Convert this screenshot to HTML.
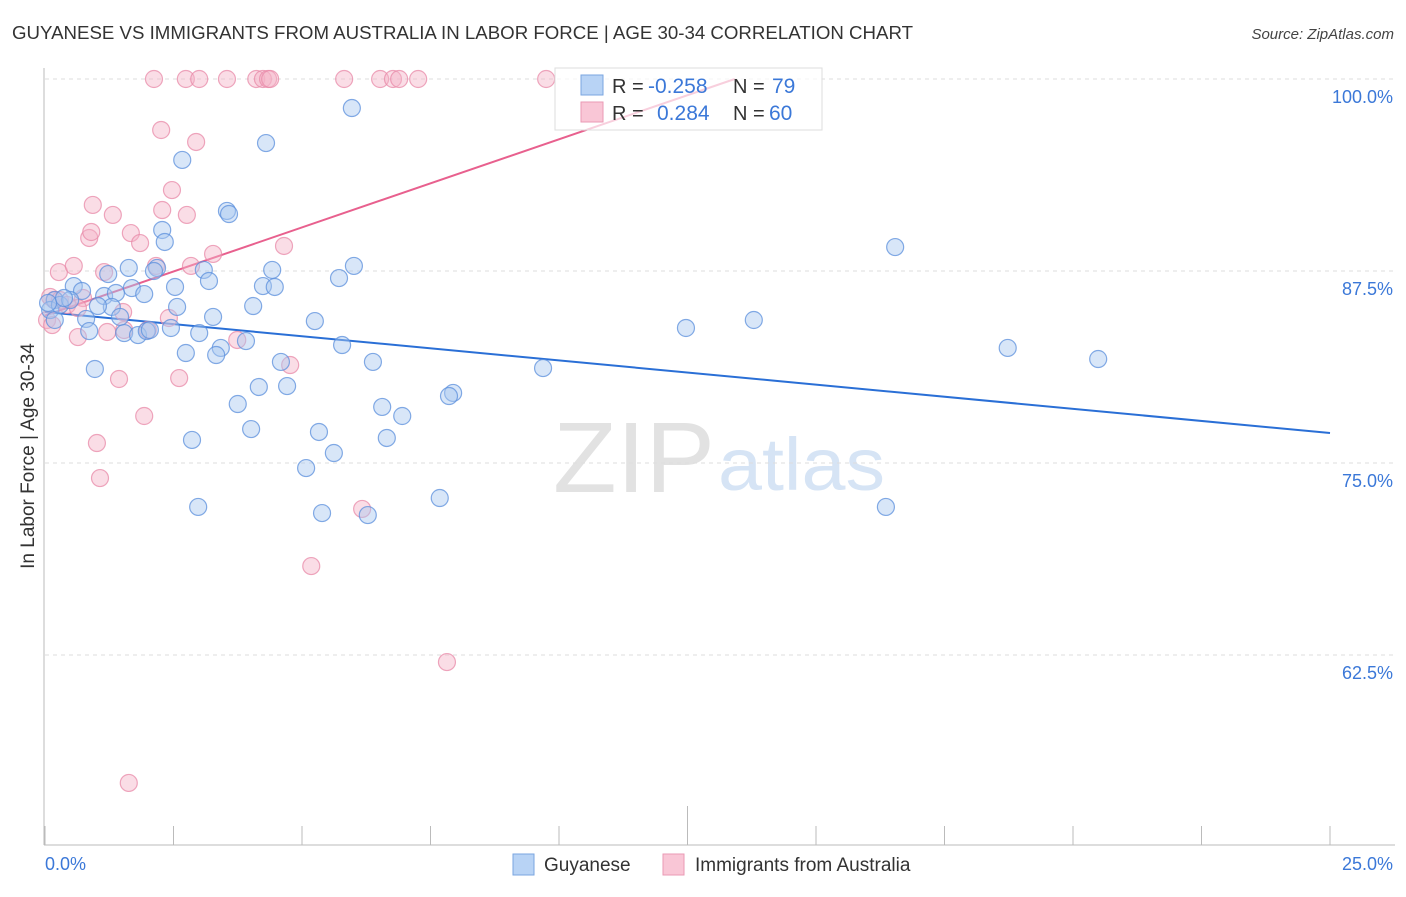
<!DOCTYPE html>
<html><head><meta charset="utf-8"><style>
body{margin:0;background:#fff;font-family:"Liberation Sans",sans-serif;}
svg text{font-family:"Liberation Sans",sans-serif;}
</style></head><body>
<svg id="chart" width="1406" height="892" xmlns="http://www.w3.org/2000/svg">
<text x="12" y="39" font-size="18" fill="#333" textLength="901" lengthAdjust="spacingAndGlyphs">GUYANESE VS IMMIGRANTS FROM AUSTRALIA IN LABOR FORCE | AGE 30-34 CORRELATION CHART</text>
<text x="1394" y="39" font-size="15" fill="#444" text-anchor="end" font-style="italic">Source: ZipAtlas.com</text>
<text transform="translate(34,456) rotate(-90)" font-size="19" fill="#333" text-anchor="middle">In Labor Force | Age 30-34</text>
<g>
<text x="553" y="492" font-family="Liberation Serif,serif" font-size="100" fill="#e2e2e2" textLength="162" lengthAdjust="spacingAndGlyphs">ZIP</text>
<text x="718" y="490" font-size="74" fill="#d6e4f5" textLength="167" lengthAdjust="spacingAndGlyphs">atlas</text>
</g>
<g id="grid"></g><g id="axes"></g><g id="trend"></g><g id="pts"></g>
<g>
<rect x="555" y="68" width="267" height="62" fill="#fff" fill-opacity="0.7" stroke="#ddd"/>
<rect x="581" y="75" width="22" height="20" fill="#b8d3f5" stroke="#7aa6e0"/>
<rect x="581" y="102" width="22" height="20" fill="#f9c6d6" stroke="#ea9ab4"/>
<text x="612" y="93" font-size="20" fill="#333">R = </text><text x="648" y="93" font-size="21" fill="#3b78d8">-0.258</text>
<text x="733" y="93" font-size="20" fill="#333">N = </text><text x="772" y="93" font-size="21" fill="#3b78d8">79</text>
<text x="612" y="120" font-size="20" fill="#333">R = </text><text x="657" y="120" font-size="21" fill="#3b78d8">0.284</text>
<text x="733" y="120" font-size="20" fill="#333">N = </text><text x="769" y="120" font-size="21" fill="#3b78d8">60</text>
</g>
<g>
<rect x="513" y="854" width="21" height="21" fill="#b8d3f5" stroke="#7aa6e0"/>
<text x="544" y="871" font-size="19" fill="#333">Guyanese</text>
<rect x="663" y="854" width="21" height="21" fill="#f9c6d6" stroke="#ea9ab4"/>
<text x="695" y="871" font-size="19" fill="#333">Immigrants from Australia</text>
</g>
</svg>
<script>
const blueX=[5.97,4.30,2.67,3.54,3.58,2.28,2.33,16.54,1.63,2.18,2.12,3.09,4.42,5.72,6.01,3.19,1.23,0.56,0.72,1.15,1.69,1.38,1.93,2.53,4.24,4.47,4.05,2.57,1.30,1.03,0.19,0.10,0.19,0.80,1.46,3.27,5.25,12.47,13.79,0.86,1.54,1.81,1.98,2.45,3.00,3.91,3.42,2.74,3.33,5.78,18.73,20.49,0.97,4.59,6.38,9.69,7.94,7.86,4.16,4.71,3.75,6.56,6.95,4.01,5.33,2.86,6.65,5.62,5.08,7.68,2.98,5.39,6.28,16.36,0.29,0.06,0.49,2.04,0.37];
const blueY=[98.11,95.83,94.73,91.41,91.21,90.17,89.39,89.06,87.70,87.70,87.50,87.57,87.57,87.04,87.83,86.85,87.30,86.52,86.20,85.87,86.39,86.07,86.00,86.46,86.52,86.46,85.22,85.16,85.16,85.22,85.61,84.96,84.31,84.38,84.51,84.51,84.24,83.79,84.31,83.59,83.46,83.33,83.59,83.79,83.46,82.94,82.49,82.16,82.03,82.68,82.49,81.77,81.12,81.58,81.58,81.18,79.56,79.36,79.95,80.01,78.84,78.65,78.06,77.21,77.02,76.50,76.63,75.65,74.67,72.72,72.14,71.74,71.61,72.14,85.29,85.42,85.61,83.66,85.74];
const pinkX=[2.12,2.74,3.00,3.54,4.11,4.24,4.34,4.38,5.82,6.52,6.77,6.89,7.26,9.75,2.26,2.94,2.47,0.93,2.28,1.32,2.76,0.86,0.90,1.67,1.85,0.27,0.56,3.27,4.65,1.15,2.84,2.16,0.18,0.10,0.29,0.43,0.74,0.64,1.21,1.54,1.52,2.41,3.74,2.00,4.77,1.44,2.61,1.93,1.01,1.07,6.17,5.18,7.82,1.63,0.04,0.14,0.64];
const pinkY=[100,100,100,100,100,100,100,100,100,100,100,100,100,100,96.68,95.90,92.77,91.80,91.47,91.15,91.15,89.65,90.04,89.97,89.32,87.43,87.83,88.61,89.13,87.43,87.83,87.83,85.61,85.81,85.61,85.29,85.74,83.20,83.53,83.66,84.83,84.44,83.01,83.66,81.38,80.47,80.53,78.06,76.30,74.02,72.01,68.29,62.04,54.17,84.31,83.98,85.09];
const blueTrendX=[0,25], blueTrendY=[84.83,76.95];
const pinkTrendX=[0,13.42], pinkTrendY=[84.6,100];
const yTicks=[100,87.5,75,62.5];
const yTickLabels=["100.0%","87.5%","75.0%","62.5%"];
const xTicks=[0,2.5,5,7.5,10,12.5,15,17.5,20,22.5,25];
const NS="http://www.w3.org/2000/svg";
const sx=v=>45+v*1285/25, sy=v=>79+(100-v)*192/12.5;
function mk(p,tag,a){const e=document.createElementNS(NS,tag);for(const k in a)e.setAttribute(k,a[k]);p.appendChild(e);return e;}
const grid=document.getElementById('grid'),axes=document.getElementById('axes'),trend=document.getElementById('trend'),pts=document.getElementById('pts');
yTicks.forEach((t,i)=>{
 const l=mk(grid,'line',{x1:45,x2:1395,y1:sy(t),y2:sy(t),stroke:'#ddd','stroke-dasharray':'4,4'});
 
 
 const tx=mk(axes,'text',{x:1393,y:sy(t)+24,'font-size':18,fill:'#3b78d8','text-anchor':'end'});
 tx.textContent=yTickLabels[i];
 
 
});
const ya=mk(axes,'line',{x1:44,x2:44,y1:68,y2:845,stroke:'#bbb'});


const xa=mk(axes,'line',{x1:44,x2:1395,y1:845,y2:845,stroke:'#bbb'});


xTicks.forEach(t=>{
 const tk=mk(axes,'line',{x1:sx(t),x2:sx(t),y1:(t===12.5?806:826),y2:845,stroke:'#bbb'});
 
 
});
[[0,"0.0%","start"],[25,"25.0%","end"]].forEach(([v,s,a])=>{
 const tx=mk(axes,'text',{x:v===0?45:1393,y:870,'font-size':18,fill:'#3b78d8','text-anchor':a});
 tx.textContent=s;
 
 
});
function drawPts(X,Y,fill,stroke,name){
 X.forEach((x,i)=>{
  const c=mk(pts,'circle',{cx:sx(x),cy:sy(Y[i]),r:8.5,fill:fill,'fill-opacity':0.45,stroke:stroke,'stroke-opacity':0.75,'stroke-width':1.2});
  
  
 });
}
drawPts(pinkX,pinkY,'#f5b3c8','#e88aa8','point-australia');
drawPts(blueX,blueY,'#a9c8f0','#5b8fdc','point-guyanese');
const bt=mk(trend,'line',{x1:sx(blueTrendX[0]),y1:sy(blueTrendY[0]),x2:sx(blueTrendX[1]),y2:sy(blueTrendY[1]),stroke:'#2a6fd6','stroke-width':2});


const pt=mk(trend,'line',{x1:sx(pinkTrendX[0]),y1:sy(pinkTrendY[0]),x2:sx(pinkTrendX[1]),y2:sy(pinkTrendY[1]),stroke:'#e8608e','stroke-width':2});


</script>
</body></html>
